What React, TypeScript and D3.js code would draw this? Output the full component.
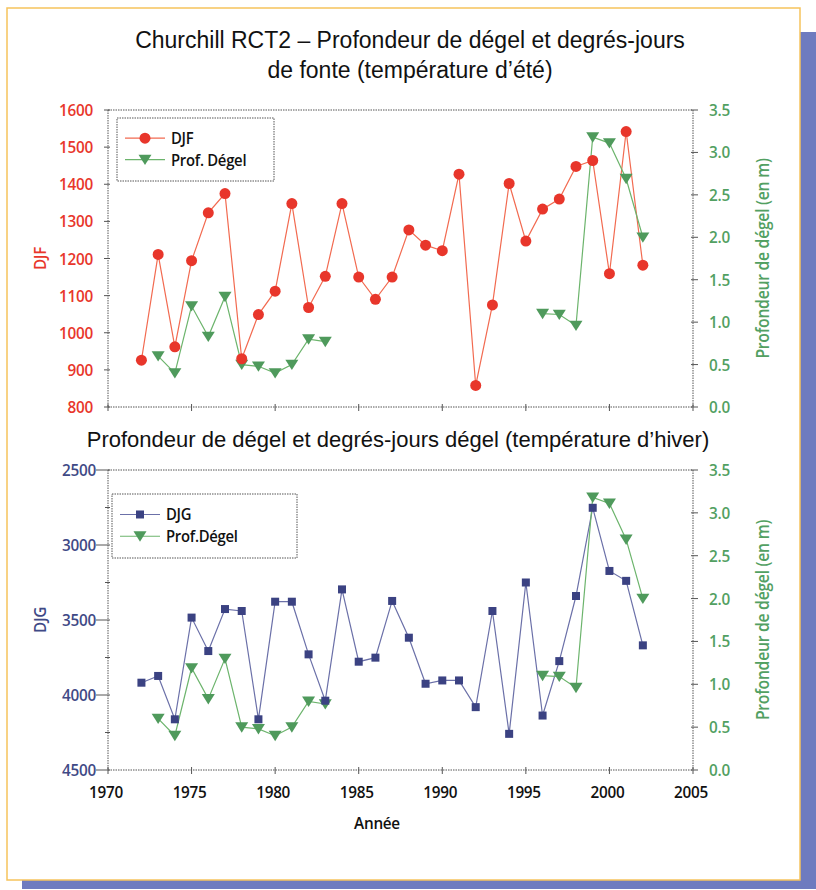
import React from "react";
import * as d3 from "d3";

// Years covered by the degree-day series
const years = d3.range(1972, 2003);

// Degrés-jours de fonte (summer thawing index), 1972–2002
const djf = [
  926, 1211, 962, 1194, 1323, 1375, 930, 1049, 1112, 1348, 1068, 1152, 1348,
  1150, 1090, 1150, 1277, 1236, 1221, 1427, 858, 1075, 1402, 1247, 1333, 1360,
  1448, 1464, 1159, 1542, 1182,
];

// Degrés-jours de gel (winter freezing index), 1972–2002
const djg = [
  3918, 3873, 4162, 3484, 3707, 3427, 3440, 4162, 3378, 3378, 3729, 4038, 3296,
  3778, 3751, 3373, 3618, 3925, 3903, 3903, 4081, 3440, 4259, 3250, 4137, 3774,
  3340, 2752, 3173, 3239, 3669,
];

// Thaw depth (m); the record has a gap between 1983 and 1996
const thawYears1 = [1973, 1974, 1975, 1976, 1977, 1978, 1979, 1980, 1981, 1982, 1983];
const thawDepth1 = [0.6, 0.4, 1.19, 0.83, 1.3, 0.5, 0.48, 0.4, 0.5, 0.8, 0.77];
const thawYears2 = [1996, 1997, 1998, 1999, 2000, 2001, 2002];
const thawDepth2 = [1.1, 1.09, 0.96, 3.18, 3.11, 2.69, 2.0];

const xTicks = [1970, 1975, 1980, 1985, 1990, 1995, 2000, 2005];
const djfTicks = [800, 900, 1000, 1100, 1200, 1300, 1400, 1500, 1600];
const djgTicks = [2500, 3000, 3500, 4000, 4500];
const djgMinor = [2750, 3250, 3750, 4250];
const depthTicks = [0, 0.5, 1, 1.5, 2, 2.5, 3, 3.5];

const RED_LINE = "#f26a50";
const RED = "#e8362b";
const GREEN_LINE = "#6cb46c";
const GREEN = "#4f9a5c";
const GREEN_TEXT = "#52a062";
const BLUE_LINE = "#6b70a8";
const BLUE = "#3b4282";
const BLUE_TEXT = "#3f4a86";
const AXIS = "#555";
const TICK_FONT = "'Open Sans', 'DejaVu Sans', sans-serif";
const TITLE_FONT = "'Liberation Sans', Arial, sans-serif";

const x = d3.scaleLinear().domain([1970, 2005]).range([108, 693]);

type Pt = [number, number];

function zip(xs: number[], ys: number[]): Pt[] {
  return xs.map((v, i) => [v, ys[i]] as Pt);
}

// Semibold, slightly narrowed label text
function Label({
  x: tx,
  y: ty,
  anchor = "start",
  size = 16,
  fill = "#111",
  rotate = 0,
  children,
}: {
  x: number;
  y: number;
  anchor?: "start" | "middle" | "end";
  size?: number;
  fill?: string;
  rotate?: number;
  children: React.ReactNode;
}) {
  return (
    <g transform={`translate(${tx},${ty}) rotate(${rotate}) scale(0.9,1)`}>
      <text
        textAnchor={anchor}
        fontFamily={TICK_FONT}
        fontSize={size}
        fontWeight={600}
        letterSpacing={-0.3}
        fill={fill}
      >
        {children}
      </text>
    </g>
  );
}

function Triangle({ cx, cy, fill }: { cx: number; cy: number; fill: string }) {
  const s = 6.5;
  return (
    <path
      d={`M${cx - s},${cy - s * 0.75} L${cx + s},${cy - s * 0.75} L${cx},${cy + s * 0.85} Z`}
      fill={fill}
    />
  );
}

function Frame({ top, bottom }: { top: number; bottom: number }) {
  return (
    <g stroke={AXIS} strokeWidth={1} strokeDasharray="1.5,1" fill="none">
      <line x1={x(1970)} x2={x(2005)} y1={top} y2={top} />
      <line x1={x(1970)} x2={x(2005)} y1={bottom} y2={bottom} />
      <line x1={x(1970)} x2={x(1970)} y1={top} y2={bottom} />
      <line x1={x(2005)} x2={x(2005)} y1={top} y2={bottom} />
    </g>
  );
}

function XTicks({ bottom, labels }: { bottom: number; labels: boolean }) {
  return (
    <g>
      {xTicks.map((t) => (
        <g key={t}>
          <line x1={x(t)} x2={x(t)} y1={bottom - 3} y2={bottom + 4} stroke={AXIS} strokeWidth={1} />
          {labels && (
            <Label x={x(t) - 2} y={bottom + 28} anchor="middle" size={17}>
              {t}
            </Label>
          )}
        </g>
      ))}
    </g>
  );
}

function DepthAxis({ y }: { y: d3.ScaleLinear<number, number> }) {
  const ax = x(2005);
  const [b, t] = y.range();
  return (
    <g>
      {depthTicks.map((v) => (
        <g key={v}>
          <line x1={ax - 2} x2={ax + 5} y1={y(v)} y2={y(v)} stroke={AXIS} strokeWidth={1} />
          <Label x={ax + 16} y={y(v) + 6} size={17} fill={GREEN_TEXT}>
            {v.toFixed(1)}
          </Label>
        </g>
      ))}
      <Label x={769} y={(b + t) / 2} anchor="middle" size={17.5} fill={GREEN_TEXT} rotate={-90}>
        Profondeur de dégel (en m)
      </Label>
    </g>
  );
}

function ThawSeries({ y }: { y: d3.ScaleLinear<number, number> }) {
  const line = d3
    .line<Pt>()
    .x((d) => x(d[0]))
    .y((d) => y(d[1]));
  const segs = [zip(thawYears1, thawDepth1), zip(thawYears2, thawDepth2)];
  return (
    <g>
      {segs.map((s, i) => (
        <path key={i} d={line(s) || ""} fill="none" stroke={GREEN_LINE} strokeWidth={1.2} />
      ))}
      {segs.flat().map((d, i) => (
        <Triangle key={i} cx={x(d[0])} cy={y(d[1])} fill={GREEN} />
      ))}
    </g>
  );
}

function Legend({
  x0,
  y0,
  w,
  h,
  name,
  color,
  lineColor,
  marker,
  thawLabel,
}: {
  x0: number;
  y0: number;
  w: number;
  h: number;
  name: string;
  color: string;
  lineColor: string;
  marker: "circle" | "square";
  thawLabel: string;
}) {
  const r1 = y0 + h * 0.32;
  const r2 = y0 + h * 0.66;
  const lx0 = x0 + 8;
  const lx1 = x0 + 48;
  const mx = (lx0 + lx1) / 2;
  return (
    <g>
      <rect
        x={x0}
        y={y0}
        width={w}
        height={h}
        fill="white"
        stroke={AXIS}
        strokeWidth={1}
        strokeDasharray="1.5,1"
      />
      <line x1={lx0} x2={lx1} y1={r1} y2={r1} stroke={lineColor} strokeWidth={1.2} />
      {marker === "circle" ? (
        <circle cx={mx} cy={r1} r={5.5} fill={color} />
      ) : (
        <rect x={mx - 4} y={r1 - 4} width={8} height={8} fill={color} />
      )}
      <line x1={lx0} x2={lx1} y1={r2} y2={r2} stroke={GREEN_LINE} strokeWidth={1.2} />
      <Triangle cx={mx} cy={r2} fill={GREEN} />
      <Label x={lx1 + 6} y={r1 + 6} size={16.5}>
        {name}
      </Label>
      <Label x={lx1 + 6} y={r2 + 6} size={16.5}>
        {thawLabel}
      </Label>
    </g>
  );
}

function SummerPanel() {
  const top = 110;
  const bottom = 407;
  const yL = d3.scaleLinear().domain([800, 1600]).range([bottom, top]);
  const yR = d3.scaleLinear().domain([0, 3.5]).range([bottom, top]);
  const pts = zip(years, djf);
  const line = d3
    .line<Pt>()
    .x((d) => x(d[0]))
    .y((d) => yL(d[1]));
  return (
    <g>
      <Frame top={top} bottom={bottom} />
      <XTicks bottom={bottom} labels={false} />
      {djfTicks.map((v) => (
        <g key={v}>
          <line x1={x(1970) - 4} x2={x(1970) + 2} y1={yL(v)} y2={yL(v)} stroke={AXIS} strokeWidth={1} />
          <Label x={x(1970) - 15} y={yL(v) + 6} anchor="end" size={17} fill={RED}>
            {v}
          </Label>
        </g>
      ))}
      <Label x={46} y={(top + bottom) / 2} anchor="middle" size={17} fill={RED} rotate={-90}>
        DJF
      </Label>
      <DepthAxis y={yR} />
      <path d={line(pts) || ""} fill="none" stroke={RED_LINE} strokeWidth={1.2} />
      <ThawSeries y={yR} />
      {pts.map((d, i) => (
        <circle key={i} cx={x(d[0])} cy={yL(d[1])} r={5.5} fill={RED} />
      ))}
      <Legend
        x0={117}
        y0={118}
        w={157}
        h={63}
        name="DJF"
        color={RED}
        lineColor={RED_LINE}
        marker="circle"
        thawLabel="Prof. Dégel"
      />
    </g>
  );
}

function WinterPanel() {
  const top = 470;
  const bottom = 770;
  const yL = d3.scaleLinear().domain([2500, 4500]).range([top, bottom]);
  const yR = d3.scaleLinear().domain([0, 3.5]).range([bottom, top]);
  const pts = zip(years, djg);
  const line = d3
    .line<Pt>()
    .x((d) => x(d[0]))
    .y((d) => yL(d[1]));
  return (
    <g>
      <Frame top={top} bottom={bottom} />
      <XTicks bottom={bottom} labels={true} />
      {djgTicks.map((v) => (
        <g key={v}>
          <line x1={x(1970) - 12} x2={x(1970) + 2} y1={yL(v)} y2={yL(v)} stroke={AXIS} strokeWidth={1} />
          <Label x={x(1970) - 12} y={yL(v) + 6} anchor="end" size={17} fill={BLUE_TEXT}>
            {v}
          </Label>
        </g>
      ))}
      {djgMinor.map((v) => (
        <line key={v} x1={x(1970) - 3} x2={x(1970) + 2} y1={yL(v)} y2={yL(v)} stroke={AXIS} strokeWidth={1} />
      ))}
      <Label x={46} y={(top + bottom) / 2} anchor="middle" size={17} fill={BLUE_TEXT} rotate={-90}>
        DJG
      </Label>
      <DepthAxis y={yR} />
      <path d={line(pts) || ""} fill="none" stroke={BLUE_LINE} strokeWidth={1.2} />
      <ThawSeries y={yR} />
      {pts.map((d, i) => (
        <rect key={i} x={x(d[0]) - 4} y={yL(d[1]) - 4} width={8} height={8} fill={BLUE} />
      ))}
      <Legend
        x0={112}
        y0={494}
        w={185}
        h={64}
        name="DJG"
        color={BLUE}
        lineColor={BLUE_LINE}
        marker="square"
        thawLabel="Prof.Dégel"
      />
      <Label x={377} y={829} anchor="middle" size={17}>
        Année
      </Label>
    </g>
  );
}

export default function App() {
  return (
    <svg
      width={816}
      height={890}
      style={{ position: "absolute", left: 0, top: 0, display: "block" }}
    >
      <rect width={816} height={890} fill="white" />
      {/* drop shadow behind the card */}
      <rect x={22} y={32} width={794} height={857} fill="#6e7bbf" />
      {/* card */}
      <rect x={7} y={8} width={793} height={872} fill="white" stroke="#f6c35c" strokeWidth={1.5} />
      <text x={410} y={48} textAnchor="middle" fontFamily={TITLE_FONT} fontSize={23} fill="#111">
        Churchill RCT2 – Profondeur de dégel et degrés-jours
      </text>
      <text x={410} y={78} textAnchor="middle" fontFamily={TITLE_FONT} fontSize={23} fill="#111">
        de fonte (température d’été)
      </text>
      <text x={398} y={447} textAnchor="middle" fontFamily={TITLE_FONT} fontSize={22} fill="#111">
        Profondeur de dégel et degrés-jours dégel (température d’hiver)
      </text>
      <SummerPanel />
      <WinterPanel />
    </svg>
  );
}
